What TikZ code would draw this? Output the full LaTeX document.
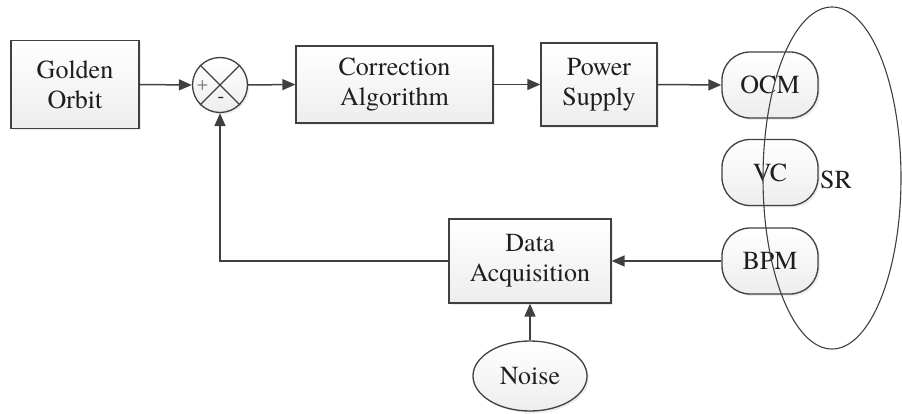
\documentclass[tikz,border=0pt]{standalone}
\usepackage{fontspec}
\newfontfamily\labelfont{texgyretermes-regular.otf}
\usetikzlibrary{arrows.meta,shadows,shapes.geometric}
\definecolor{linegray}{HTML}{404040}
\definecolor{txt}{HTML}{1E1E1E}
\begin{document}
\begin{tikzpicture}[x=1pt,y=-1pt,
  line/.style={draw=linegray, line width=1.5pt},
  arr/.style={line, -{Triangle[length=13pt,width=11pt]}},
  shade/.style={top color=white, bottom color=gray!14,
    drop shadow={opacity=0.15, shadow xshift=2pt, shadow yshift=-2pt}},
  lbl/.style={font=\labelfont\fontsize{26}{30}\selectfont, text=txt, align=center},
  blk/.style={draw=linegray, line width=1.3pt, shade, lbl, inner sep=0pt},
  pill/.style={blk, rounded corners=28pt, minimum width=96pt, minimum height=66pt},
]
\useasboundingbox (0,0) rectangle (902,414);

% main forward path
\node[blk, minimum width=128pt, minimum height=88pt] (golden) at (75,84.5) {Golden\\Orbit};
\node[circle, draw=linegray, line width=1.3pt, shade, minimum size=55pt, inner sep=0pt] (sum) at (220,85) {};
\draw[linegray, line width=1.1pt] (sum.north east) -- (sum.south west) (sum.north west) -- (sum.south east);
\node[font=\labelfont\fontsize{20}{20}\selectfont, text=gray] (plus) at (202.5,86) {+};
\node[font=\labelfont\fontsize{20}{20}\selectfont, text=txt] (minus) at (221,100) {-};
\node[blk, minimum width=197pt, minimum height=77pt] (corr) at (394.5,84.5) {Correction\\Algorithm};
\node[blk, minimum width=116pt, minimum height=83pt] (ps) at (599,84.5) {Power\\Supply};

% storage ring elements
\node[pill] (ocm) at (770,85) {OCM};
\node[pill] (vc) at (770,172.5) {VC};
\node[pill] (bpm) at (770,261) {BPM};
\node[lbl] (sr) at (836,180) {SR};

% feedback path
\node[blk, minimum width=162pt, minimum height=84pt] (daq) at (530,261) {Data\\Acquisition};
\node[ellipse, draw=linegray, line width=1.3pt, shade, lbl, minimum width=114pt, minimum height=70pt, inner sep=0pt] (noise) at (530,376) {Noise};

% ring outline
\draw[linegray, line width=1.1pt] (832,178) ellipse [x radius=69pt, y radius=171pt];

% connectors
\draw[arr] (golden.east) -- (sum.west);
\draw[arr] (sum.east) -- (corr.west);
\draw[arr] (corr.east) -- (ps.west);
\draw[arr] (ps.east) -- (ocm.west);
\draw[arr] (bpm.west) -- (daq.east);
\draw[arr] (noise.north) -- (daq.south);
\draw[arr] (daq.west) -| (sum.south);
\end{tikzpicture}
\end{document}
